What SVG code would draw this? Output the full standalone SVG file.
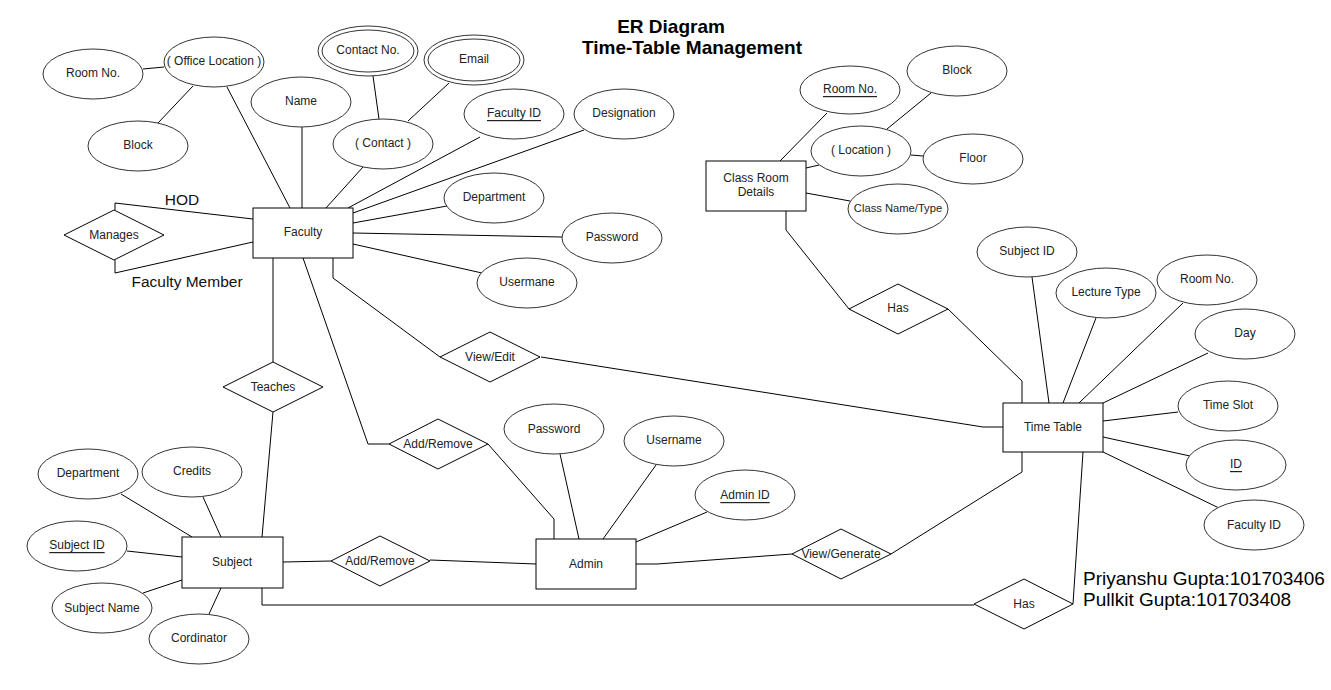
<svg xmlns="http://www.w3.org/2000/svg" width="1331" height="690" viewBox="0 0 1331 690">
<style>
.e{fill:#fff;stroke:#333;stroke-width:1}
.r{fill:#fff;stroke:#000;stroke-width:1}
.d{fill:#fff;stroke:#000;stroke-width:1}
.c{fill:none;stroke:#000;stroke-width:1}
.t{font-family:"Liberation Sans",Arial,sans-serif;font-size:12px;fill:#222;text-anchor:middle;dominant-baseline:central}
.u{text-decoration:underline}
.big{font-family:"Liberation Sans",Arial,sans-serif;font-size:15.5px;fill:#111}
.title{font-family:"Liberation Sans",Arial,sans-serif;font-size:19px;font-weight:bold;fill:#000;text-anchor:middle}
.auth{font-family:"Liberation Sans",Arial,sans-serif;font-size:19px;fill:#000}
</style>
<rect width="1331" height="690" fill="#fff"/>
<g id="connectors">
<polyline class="c" points="143,69 164,67"/>
<polyline class="c" points="158,123 193,86"/>
<polyline class="c" points="227,87 290,208"/>
<polyline class="c" points="302,127 302,208"/>
<polyline class="c" points="363,167 326,208"/>
<polyline class="c" points="373,76 379,119"/>
<polyline class="c" points="449,83 408,121"/>
<polyline class="c" points="480,137 348,208"/>
<polyline class="c" points="584,130 353,213"/>
<polyline class="c" points="447,206 353,223"/>
<polyline class="c" points="562,237 353,233"/>
<polyline class="c" points="482,273 353,244"/>
<polyline class="c" points="115,210 115,203 253,219"/>
<polyline class="c" points="115,260 115,273 253,242"/>
<polyline class="c" points="273,258 273,362"/>
<polyline class="c" points="273,412 262,537"/>
<polyline class="c" points="303,258 368,444 389,444"/>
<polyline class="c" points="488,444 554,519 554,539"/>
<polyline class="c" points="333,258 333,278 440,357"/>
<polyline class="c" points="541,357 983,427 1003,427"/>
<polyline class="c" points="560,454 579,539"/>
<polyline class="c" points="656,465 603,539"/>
<polyline class="c" points="636,542 707,512"/>
<polyline class="c" points="636,564 657,564 792,554"/>
<polyline class="c" points="891,554 1022,472 1022,452"/>
<polyline class="c" points="262,588 262,605 974,605"/>
<polyline class="c" points="1073,604 1083,452"/>
<polyline class="c" points="827,113 780,161"/>
<polyline class="c" points="931,93 887,129"/>
<polyline class="c" points="911,155 923,156"/>
<polyline class="c" points="819,165 806,168"/>
<polyline class="c" points="806,193 850,201"/>
<polyline class="c" points="786,211 786,230 849,309"/>
<polyline class="c" points="948,309 1022,381 1022,403"/>
<polyline class="c" points="1032,277 1049,403"/>
<polyline class="c" points="1096,318 1063,403"/>
<polyline class="c" points="1183,303 1079,403"/>
<polyline class="c" points="1208,353 1103,403"/>
<polyline class="c" points="1178,412 1103,421"/>
<polyline class="c" points="1190,456 1103,437"/>
<polyline class="c" points="1219,508 1103,452"/>
<polyline class="c" points="121,494 192,537"/>
<polyline class="c" points="203,497 221,537"/>
<polyline class="c" points="127,551 182,557"/>
<polyline class="c" points="143,593 182,580"/>
<polyline class="c" points="209,614 221,588"/>
<polyline class="c" points="283,562 331,561"/>
<polyline class="c" points="430,560 536,564"/>
</g>
<g id="title">
<text class="title" x="671" y="33">ER Diagram</text>
<text class="title" x="692" y="54">Time-Table Management</text>
</g>
<g id="labels">
<text class="big" x="182" y="205" text-anchor="middle">HOD</text>
<text class="big" x="187" y="287" text-anchor="middle">Faculty Member</text>
<text class="auth" x="1083" y="585">Priyanshu Gupta:101703406</text>
<text class="auth" x="1083" y="606">Pullkit Gupta:101703408</text>
</g>
<g id="faculty"><rect class="r" x="253" y="208" width="100" height="50"/><text class="t" x="303" y="232">Faculty</text></g>
<g id="fac-roomno"><ellipse class="e" cx="93" cy="74" rx="50" ry="25"/><text class="t" x="93" y="73">Room No.</text></g>
<g id="fac-officeloc"><ellipse class="e" cx="214" cy="62" rx="50" ry="25"/><text class="t" x="214" y="61">( Office Location )</text></g>
<g id="fac-block"><ellipse class="e" cx="138" cy="146" rx="50" ry="25"/><text class="t" x="138" y="145">Block</text></g>
<g id="fac-name"><ellipse class="e" cx="301" cy="102" rx="50" ry="25"/><text class="t" x="301" y="101">Name</text></g>
<g id="fac-contact"><ellipse class="e" cx="383" cy="144" rx="50" ry="25"/><text class="t" x="383" y="143">( Contact )</text></g>
<g id="fac-contactno"><ellipse class="e" cx="368" cy="51" rx="50" ry="25"/><ellipse class="e" cx="368" cy="51" rx="46" ry="21"/><text class="t" x="368" y="50">Contact No.</text></g>
<g id="fac-email"><ellipse class="e" cx="474" cy="60" rx="50" ry="25"/><ellipse class="e" cx="474" cy="60" rx="46" ry="21"/><text class="t" x="474" y="59">Email</text></g>
<g id="fac-id"><ellipse class="e" cx="514" cy="114" rx="50" ry="25"/><text class="t u" x="514" y="113">Faculty ID</text></g>
<g id="fac-designation"><ellipse class="e" cx="624" cy="114" rx="50" ry="25"/><text class="t" x="624" y="113">Designation</text></g>
<g id="fac-department"><ellipse class="e" cx="494" cy="198" rx="50" ry="25"/><text class="t" x="494" y="197">Department</text></g>
<g id="fac-password"><ellipse class="e" cx="612" cy="238" rx="50" ry="25"/><text class="t" x="612" y="237">Password</text></g>
<g id="fac-username"><ellipse class="e" cx="527" cy="283" rx="50" ry="25"/><text class="t" x="527" y="282">Usermane</text></g>
<g id="manages"><polygon class="d" points="64,235 114,210 164,235 114,260"/><text class="t" x="114" y="235">Manages</text></g>
<g id="teaches"><polygon class="d" points="223,387 273,362 323,387 273,412"/><text class="t" x="273" y="387">Teaches</text></g>
<g id="viewedit"><polygon class="d" points="440,357 490,332 540,357 490,382"/><text class="t" x="490" y="357">View/Edit</text></g>
<g id="addremove1"><polygon class="d" points="389,444 438,419 488,444 438,469"/><text class="t" x="438" y="444">Add/Remove</text></g>
<g id="classroom"><rect class="r" x="706" y="161" width="100" height="50"/><text class="t" x="756" y="178">Class Room</text><text class="t" x="756" y="192">Details</text></g>
<g id="cr-roomno"><ellipse class="e" cx="850" cy="90" rx="50" ry="24"/><text class="t u" x="850" y="89">Room No.</text></g>
<g id="cr-block"><ellipse class="e" cx="957" cy="71" rx="50" ry="25"/><text class="t" x="957" y="70">Block</text></g>
<g id="cr-location"><ellipse class="e" cx="861" cy="151" rx="50" ry="25"/><text class="t" x="861" y="150">( Location )</text></g>
<g id="cr-floor"><ellipse class="e" cx="973" cy="159" rx="50" ry="25"/><text class="t" x="973" y="158">Floor</text></g>
<g id="cr-classname"><ellipse class="e" cx="898" cy="209" rx="50" ry="25"/><text class="t" x="898" y="208" style="font-size:11.2px">Class Name/Type</text></g>
<g id="has1"><polygon class="d" points="849,309 898,284 948,309 898,334"/><text class="t" x="898" y="308">Has</text></g>
<g id="timetable"><rect class="r" x="1003" y="403" width="100" height="49"/><text class="t" x="1053" y="427">Time Table</text></g>
<g id="tt-subjectid"><ellipse class="e" cx="1027" cy="252" rx="50" ry="25"/><text class="t" x="1027" y="251">Subject ID</text></g>
<g id="tt-lecturetype"><ellipse class="e" cx="1106" cy="293" rx="50" ry="25"/><text class="t" x="1106" y="292">Lecture Type</text></g>
<g id="tt-roomno"><ellipse class="e" cx="1207" cy="280" rx="50" ry="25"/><text class="t" x="1207" y="279">Room No.</text></g>
<g id="tt-day"><ellipse class="e" cx="1245" cy="334" rx="50" ry="25"/><text class="t" x="1245" y="333">Day</text></g>
<g id="tt-timeslot"><ellipse class="e" cx="1228" cy="406" rx="50" ry="25"/><text class="t" x="1228" y="405">Time Slot</text></g>
<g id="tt-id"><ellipse class="e" cx="1236" cy="465" rx="50" ry="25"/><text class="t u" x="1236" y="464">ID</text></g>
<g id="tt-facultyid"><ellipse class="e" cx="1254" cy="525" rx="50" ry="25"/><text class="t" x="1254" y="525">Faculty ID</text></g>
<g id="admin"><rect class="r" x="536" y="539" width="100" height="50"/><text class="t" x="586" y="564">Admin</text></g>
<g id="ad-password"><ellipse class="e" cx="554" cy="429" rx="50" ry="25"/><text class="t" x="554" y="429">Password</text></g>
<g id="ad-username"><ellipse class="e" cx="674" cy="441" rx="50" ry="25"/><text class="t" x="674" y="440">Username</text></g>
<g id="ad-id"><ellipse class="e" cx="745" cy="495" rx="50" ry="25"/><text class="t u" x="745" y="495">Admin ID</text></g>
<g id="viewgenerate"><polygon class="d" points="792,554 841,529 891,554 841,579"/><text class="t" x="841" y="554">View/Generate</text></g>
<g id="has2"><polygon class="d" points="974,604 1024,579 1073,604 1024,629"/><text class="t" x="1024" y="604">Has</text></g>
<g id="subject"><rect class="r" x="182" y="537" width="101" height="51"/><text class="t" x="232" y="562">Subject</text></g>
<g id="su-department"><ellipse class="e" cx="88" cy="474" rx="50" ry="25"/><text class="t" x="88" y="473">Department</text></g>
<g id="su-credits"><ellipse class="e" cx="192" cy="472" rx="50" ry="25"/><text class="t" x="192" y="471">Credits</text></g>
<g id="su-subjectid"><ellipse class="e" cx="77" cy="546" rx="50" ry="25"/><text class="t u" x="77" y="545">Subject ID</text></g>
<g id="su-subjectname"><ellipse class="e" cx="102" cy="608" rx="50" ry="25"/><text class="t" x="102" y="608">Subject Name</text></g>
<g id="su-cordinator"><ellipse class="e" cx="199" cy="639" rx="50" ry="25"/><text class="t" x="199" y="638">Cordinator</text></g>
<g id="addremove2"><polygon class="d" points="331,561 380,536 430,561 380,586"/><text class="t" x="380" y="561">Add/Remove</text></g>
</svg>
